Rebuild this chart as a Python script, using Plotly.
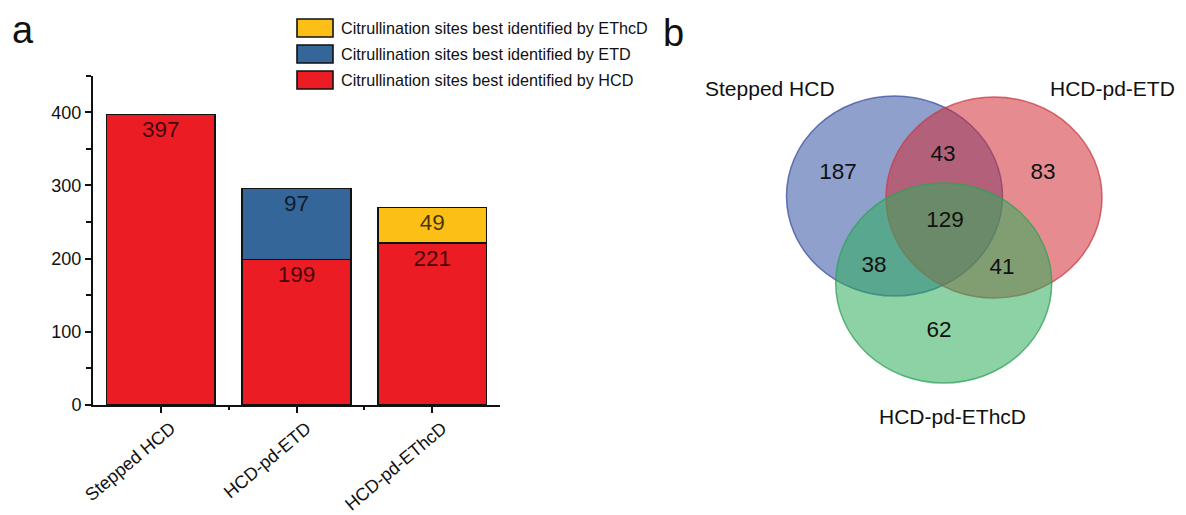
import plotly.graph_objects as go

# ---------------- data ----------------
categories = ["Stepped HCD", "HCD-pd-ETD", "HCD-pd-EThcD"]
series_names = [
    "Citrullination sites best identified by HCD",
    "Citrullination sites best identified by ETD",
    "Citrullination sites best identified by EThcD",
]
hcd_sites = [397, 199, 221]
etd_sites = [None, 97, None]
ethcd_sites = [None, None, 49]

venn_sets = ["Stepped HCD", "HCD-pd-ETD", "HCD-pd-EThcD"]
# region order: A only, B only, C only, A&B, A&C, B&C, A&B&C
venn_counts = [187, 83, 62, 43, 38, 41, 129]

# ---------------- style / layout ----------------
W, H = 1186, 515
FONT = "Arial, Liberation Sans, sans-serif"
bar_colors = ["#ec1c24", "#346699", "#fbbf16"]
bar_text_color = "rgba(0,0,0,0.74)"

# venn geometry (pixel space of panel b)
venn_ellipses = [  # cx, cy, rx, ry
    (894.5, 196.0, 108, 100),
    (994.0, 197.5, 108, 100.5),
    (943.7, 283.0, 108, 100),
]
venn_fill = ["rgba(51,82,164,0.55)", "rgba(210,46,55,0.55)", "rgba(46,173,91,0.55)"]
venn_line = ["rgba(60,80,160,0.75)", "rgba(200,60,70,0.75)", "rgba(50,160,90,0.75)"]
venn_label_xy = [(838, 173), (1043, 173), (939, 331), (943, 155), (874, 266), (1002, 268), (945, 221)]
venn_set_label_xy = [(770, 88), (1112, 88), (952, 416)]

fig = go.Figure()

xs = list(range(len(categories)))
for name, vals, col in zip(series_names, [hcd_sites, etd_sites, ethcd_sites], bar_colors):
    fig.add_trace(go.Bar(
        x=xs, y=vals, name=name, width=0.8,
        marker=dict(color=col, line=dict(color="#111", width=1.6)),
        text=[("" if v is None else str(v)) for v in vals],
        textposition="inside", insidetextanchor="end",
        textfont=dict(family=FONT, size=22.5, color=bar_text_color),
        constraintext="none",
        showlegend=False, xaxis="x", yaxis="y",
    ))

# venn numbers as a text trace on its own axes
fig.add_trace(go.Scatter(
    x=[p[0] for p in venn_label_xy], y=[p[1] for p in venn_label_xy],
    text=[str(c) for c in venn_counts], mode="text",
    textfont=dict(family=FONT, size=22.5, color="#111"),
    showlegend=False, xaxis="x2", yaxis="y2", hoverinfo="skip",
))

x0d, x1d = 93 / W, 500 / W
y0d, y1d = 1 - 405 / H, 1 - 75.7 / H

fig.update_layout(
    width=W, height=H, autosize=False,
    margin=dict(l=0, r=0, t=0, b=0),
    paper_bgcolor="white", plot_bgcolor="rgba(0,0,0,0)",
    barmode="stack", bargap=0.2,
    font=dict(family=FONT, color="#111"),
    xaxis=dict(
        domain=[x0d, x1d], range=[-0.5, 2.5],
        tickvals=xs, ticktext=categories, tickangle=-40,
        tickfont=dict(size=18, color="#111"),
        ticks="outside", ticklen=6, tickwidth=2, tickcolor="#111",
        ticklabelshift=10, ticklabelstandoff=-2,
        minor=dict(tickvals=[0.5, 1.5], ticks="outside", ticklen=3, tickwidth=2, tickcolor="#111"),
        showline=True, linecolor="#111", linewidth=2,
        showgrid=False, zeroline=False, automargin=False, anchor="y",
    ),
    yaxis=dict(
        domain=[y0d, y1d], range=[0, 450],
        tickvals=[0, 100, 200, 300, 400],
        tickfont=dict(size=18, color="#111"),
        ticks="outside", ticklen=6, tickwidth=2, tickcolor="#111",
        minor=dict(tickvals=[50, 150, 250, 350, 450], ticks="outside", ticklen=5, tickwidth=2, tickcolor="#111"),
        showline=True, linecolor="#111", linewidth=2,
        showgrid=False, zeroline=False, automargin=False, anchor="x",
    ),
    xaxis2=dict(domain=[0.55, 1.0], range=[0.55 * W, W], visible=False, anchor="y2", fixedrange=True),
    yaxis2=dict(domain=[0, 1], range=[H, 0], visible=False, anchor="x2", fixedrange=True),
)

shapes = []
for (cx, cy, rx, ry), fc, lc in zip(venn_ellipses, venn_fill, venn_line):
    shapes.append(dict(type="circle", xref="x2", yref="y2",
                       x0=cx - rx, x1=cx + rx, y0=cy - ry, y1=cy + ry,
                       fillcolor=fc, line=dict(color=lc, width=1.5), layer="below"))

# manual legend (large swatches)
legend_rows_y = [28, 54, 80]
legend_order = [2, 1, 0]
annotations = []
for row_y, idx in zip(legend_rows_y, legend_order):
    shapes.append(dict(type="rect", xref="paper", yref="paper",
                       x0=297 / W, x1=333 / W, y0=1 - (row_y + 9) / H, y1=1 - (row_y - 9) / H,
                       fillcolor=bar_colors[idx], line=dict(color="#111", width=1.6)))
    annotations.append(dict(xref="paper", yref="paper", x=339 / W, y=1 - row_y / H,
                            text=series_names[idx], showarrow=False, xanchor="left", yanchor="middle",
                            font=dict(family=FONT, size=16.2, color="#111")))

for name, (lx, ly) in zip(venn_sets, venn_set_label_xy):
    annotations.append(dict(xref="x2", yref="y2", x=lx, y=ly, text=name, showarrow=False,
                            xanchor="center", yanchor="middle",
                            font=dict(family=FONT, size=21, color="#111")))

annotations.append(dict(xref="paper", yref="paper", x=10 / W, y=1 - 30 / H, text="a", showarrow=False,
                        xanchor="left", yanchor="middle", font=dict(family=FONT, size=38, color="#111")))
annotations.append(dict(xref="paper", yref="paper", x=661 / W, y=1 - 33 / H, text="b", showarrow=False,
                        xanchor="left", yanchor="middle", font=dict(family=FONT, size=38, color="#111")))

fig.update_layout(shapes=shapes, annotations=annotations)
fig.write_html("out.html")
